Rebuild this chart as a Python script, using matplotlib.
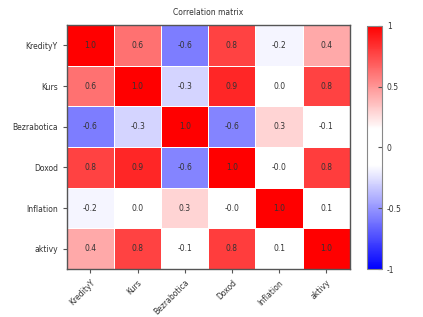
import numpy as np
import matplotlib.pyplot as plt
from matplotlib.colors import LinearSegmentedColormap

names = ["KredityY", "Kurs", "Bezrabotica", "Doxod", "Inflation", "aktivy"]
corr = np.array([
    [1.00, 0.62, -0.58, 0.78, -0.18, 0.43],
    [0.62, 1.00, -0.29, 0.87, 0.02, 0.78],
    [-0.58, -0.29, 1.00, -0.56, 0.29, -0.08],
    [0.78, 0.87, -0.56, 1.00, -0.02, 0.79],
    [-0.18, 0.02, 0.29, -0.02, 1.00, 0.09],
    [0.43, 0.78, -0.08, 0.79, 0.09, 1.00],
])

# blue-white-red with a white band around zero
cmap = LinearSegmentedColormap.from_list(
    "bwr_flat", [(0.0, "#0000ff"), (0.425, "#ffffff"), (0.575, "#ffffff"), (1.0, "#ff0000")])

fig = plt.figure(figsize=(4.23, 3.17), dpi=100)
ax = fig.add_axes([0.158, 0.151, 0.669, 0.770])
cax = fig.add_axes([0.868, 0.151, 0.035, 0.768])

n = len(names)
mesh = ax.pcolormesh(np.arange(n + 1) - 0.5, np.arange(n + 1) - 0.5, corr,
                     cmap=cmap, vmin=-1, vmax=1, edgecolors="white", linewidth=0.7)
ax.set_xlim(-0.5, n - 0.5)
ax.set_ylim(n - 0.5, -0.5)

for i in range(n):
    for j in range(n):
        ax.text(j, i, f"{corr[i, j]:.1f}", ha="center", va="center",
                fontsize=5.5, color="#333333")

ax.set_xticks(range(n))
ax.set_yticks(range(n))
ax.set_xticklabels(names, rotation=45, ha="right", rotation_mode="anchor")
ax.set_yticklabels(names)
ax.tick_params(labelsize=5.5, length=3, width=0.8, color="#555555", labelcolor="#333333")
for s in ax.spines.values():
    s.set_color("#555555")
    s.set_linewidth(1)
ax.set_title("Correlation matrix", fontsize=5.5, color="#333333", pad=7)

cb = fig.colorbar(mesh, cax=cax, ticks=[-1, -0.5, 0, 0.5, 1], format="%g")
cb.outline.set_edgecolor("#888888")
cb.outline.set_linewidth(0.8)
cax.tick_params(labelsize=5.5, direction="in", length=3, width=0.8,
                color="#555555", labelcolor="#333333")

fig.savefig("out.png", dpi=100)
